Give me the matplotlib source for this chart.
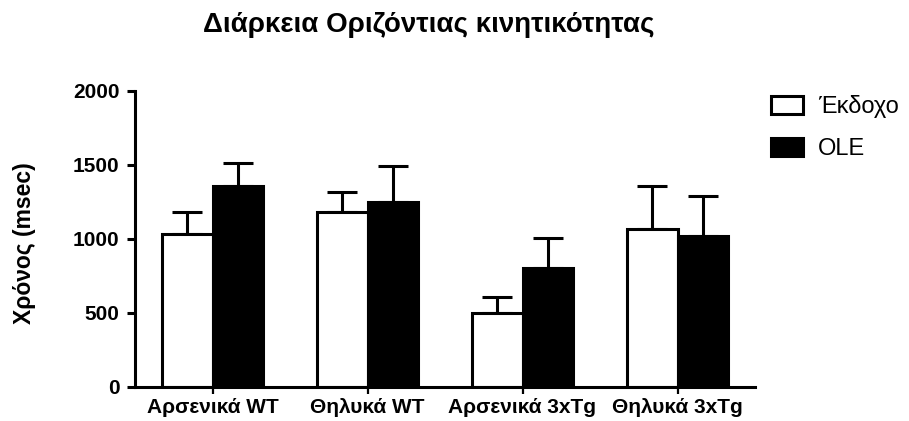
#!/usr/bin/env python3
"""Grouped bar chart: duration of horizontal mobility (vehicle vs OLE)."""

import numpy as np
import matplotlib
matplotlib.use("Agg")
import matplotlib.pyplot as plt
from matplotlib.patches import Patch

plt.rcParams["font.family"] = ["Liberation Sans", "DejaVu Sans"]

GROUPS = ["Αρσενικά WT", "Θηλυκά WT", "Αρσενικά 3xTg", "Θηλυκά 3xTg"]
SERIES = ["Έκδοχο", "OLE"]
VEHICLE_MEAN = [1035, 1185, 500, 1070]
VEHICLE_SEM = [145, 130, 110, 285]
OLE_MEAN = [1360, 1250, 805, 1020]
OLE_SEM = [155, 240, 200, 270]
Y_TICKS = [0, 500, 1000, 1500, 2000]

LW = 2.2
W, H = 9.09, 4.21

fig = plt.figure(figsize=(W, H), dpi=100)
ax = fig.add_axes([135 / 909, 1 - 387 / 421, 620 / 909, 296 / 421])

x = np.arange(len(GROUPS))
bw = 0.325
specs = [
    (VEHICLE_MEAN, VEHICLE_SEM, "white", -bw / 2),
    (OLE_MEAN, OLE_SEM, "black", bw / 2),
]
for means, sems, fc, off in specs:
    ax.errorbar(x + off, means, yerr=[np.zeros(len(sems)), sems], fmt="none",
                ecolor="black", elinewidth=LW, capsize=10.5, capthick=LW, zorder=1)
    ax.bar(x + off, means, bw, color=fc, edgecolor="black", linewidth=LW, zorder=2)

ax.set_xlim(-0.5, 3.5)
ax.set_ylim(0, 2000)
ax.set_yticks(Y_TICKS)
ax.set_xticks(x)
ax.set_xticklabels(GROUPS, fontsize=15, fontweight="bold")
ax.set_yticklabels([str(v) for v in Y_TICKS], fontsize=15, fontweight="bold")
ax.tick_params(axis="y", length=6, width=LW, pad=5)
ax.tick_params(axis="x", length=5, width=1.6, pad=3)
for side in ("top", "right"):
    ax.spines[side].set_visible(False)
for side in ("left", "bottom"):
    ax.spines[side].set_linewidth(LW)
    ax.spines[side].set_capstyle("projecting")

fig.text(25 / 909, 1 - 243 / 421, "Χρόνος (msec)", rotation=90, ha="center",
         va="center", fontsize=16.5, fontweight="bold")
fig.text(429 / 909, 1 - 32 / 421, "Διάρκεια Οριζόντιας κινητικότητας",
         ha="center", va="baseline", fontsize=20, fontweight="bold")

handles = [Patch(facecolor="white", edgecolor="black", linewidth=LW),
           Patch(facecolor="black", edgecolor="black", linewidth=LW)]
fig.legend(handles, SERIES, loc="upper left", bbox_to_anchor=(771 / 909, 1 - 95 / 421),
           frameon=False, fontsize=17, handlelength=1.35, handleheight=0.8,
           handletextpad=0.65, labelspacing=0.85, borderaxespad=0, borderpad=0)

fig.savefig("out.png", dpi=100)
